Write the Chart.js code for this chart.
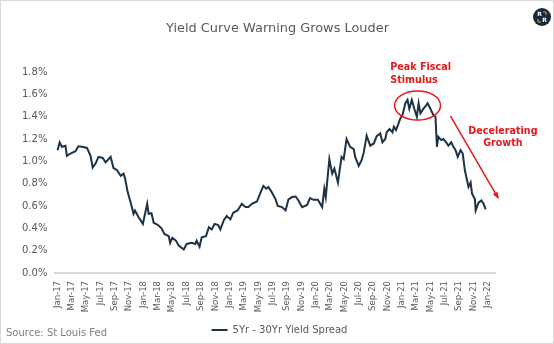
<!DOCTYPE html>
<html>
<head>
<meta charset="utf-8">
<script src="https://cdn.jsdelivr.net/npm/chart.js@4.4.1/dist/chart.umd.min.js"></script>
<style>
  html, body { margin: 0; padding: 0; background: #ffffff; }
  #marco { width: 554px; height: 344px; box-sizing: border-box; border: 1px solid #d9d9d9; position: relative; }
</style>
</head>
<body>
<div id="marco"><canvas id="grafico"></canvas></div>
<script>
// Datos: meses transcurridos desde ene-2017 y spread 5a-30a (%)
const mesesDesdeEne17 = [
  0, 0.3, 0.6, 1.1, 1.3, 1.8, 2.5, 2.9, 3.4, 4.1,
  4.6, 4.9, 5.3, 5.7, 6.3, 6.7, 7.4, 7.8, 8.3, 8.8,
  9.2, 9.4, 9.8, 10.2, 10.6, 10.8, 11.3, 11.9, 12.2, 12.5,
  12.7, 13.1, 13.4, 14.0, 14.5, 14.9, 15.5, 15.7, 16.0, 16.5,
  16.9, 17.6, 18.0, 18.7, 19.2, 19.4, 19.8, 20.1, 20.7, 21.1,
  21.5, 21.9, 22.4, 22.7, 23.2, 23.6, 24.1, 24.5, 25.1, 25.7,
  26.2, 26.6, 27.1, 27.8, 28.3, 28.7, 29.1, 29.4, 29.9, 30.4,
  30.7, 31.3, 31.8, 32.2, 32.7, 33.2, 33.6, 34.1, 34.8, 35.2,
  35.7, 36.3, 36.9, 37.2, 37.4, 37.9, 38.3, 38.6, 39.1, 39.6,
  39.9, 40.3, 40.8, 41.3, 41.5, 42.0, 42.4, 42.7, 43.1, 43.6,
  44.1, 44.5, 45.0, 45.3, 45.7, 45.9, 46.3, 46.7, 46.9, 47.2,
  47.8, 48.1, 48.5, 48.8, 49.05, 49.4, 49.8, 50.1, 50.35, 50.6,
  51.0, 51.4, 51.6, 52.0, 52.4, 52.7, 52.9, 53.1, 53.5, 53.8,
  54.2, 54.5, 54.9, 55.2, 55.5, 55.8, 56.2, 56.5, 56.8, 57.1,
  57.3, 57.6, 57.8, 58.2, 58.3, 58.7, 59.1, 59.4, 59.7
];

const spread5a30a = [
  1.10, 1.17, 1.13, 1.14, 1.05, 1.07, 1.09, 1.135, 1.13, 1.12,
  1.05, 0.945, 0.98, 1.04, 1.03, 0.99, 1.04, 0.94, 0.92, 0.87,
  0.89, 0.85, 0.72, 0.63, 0.53, 0.56, 0.50, 0.44, 0.53, 0.62,
  0.53, 0.535, 0.45, 0.43, 0.40, 0.35, 0.33, 0.27, 0.315, 0.29,
  0.245, 0.21, 0.26, 0.27, 0.26, 0.29, 0.235, 0.32, 0.33, 0.41,
  0.39, 0.44, 0.43, 0.39, 0.475, 0.51, 0.48, 0.54, 0.56, 0.62,
  0.59, 0.59, 0.62, 0.64, 0.72, 0.78, 0.755, 0.77, 0.72, 0.66,
  0.60, 0.59, 0.56, 0.66, 0.68, 0.685, 0.65, 0.59, 0.61, 0.67,
  0.655, 0.655, 0.59, 0.755, 0.68, 1.02, 0.89, 0.935, 0.81, 1.04,
  1.02, 1.20, 1.13, 1.11, 1.04, 0.96, 1.01, 1.08, 1.23, 1.14,
  1.16, 1.225, 1.25, 1.17, 1.20, 1.26, 1.29, 1.26, 1.31, 1.28,
  1.385, 1.415, 1.52, 1.55, 1.47, 1.55, 1.46, 1.40, 1.52, 1.43,
  1.47, 1.50, 1.52, 1.47, 1.415, 1.40, 1.13, 1.22, 1.19, 1.20,
  1.17, 1.14, 1.17, 1.13, 1.10, 1.04, 1.10, 1.07, 0.92, 0.83,
  0.77, 0.81, 0.71, 0.66, 0.56, 0.63, 0.65, 0.62, 0.57
];

// Etiquetas del eje X, una cada dos meses
const etiquetasX = [
  'Jan-17', 'Mar-17', 'May-17', 'Jul-17', 'Sep-17', 'Nov-17',
  'Jan-18', 'Mar-18', 'May-18', 'Jul-18', 'Sep-18', 'Nov-18',
  'Jan-19', 'Mar-19', 'May-19', 'Jul-19', 'Sep-19', 'Nov-19',
  'Jan-20', 'Mar-20', 'May-20', 'Jul-20', 'Sep-20', 'Nov-20',
  'Jan-21', 'Mar-21', 'May-21', 'Jul-21', 'Sep-21', 'Nov-21',
  'Jan-22'
];

const ticksY = [0, 0.2, 0.4, 0.6, 0.8, 1.0, 1.2, 1.4, 1.6, 1.8];

const FUENTE = '"DejaVu Sans", Verdana, sans-serif';
const COLOR_TEXTO = '#595959';
const ROJO = '#e3191c';

/** Título, fuente, logo y anotaciones en rojo */
const decoraciones = {
  id: 'decoraciones',
  afterDraw(chart) {
    const ctx = chart.ctx;
    const sx = chart.scales.x, sy = chart.scales.y;
    const px = m => sx.getPixelForValue(m);
    const py = v => sy.getPixelForValue(v);
    ctx.save();

    // título: se ajusta el tamaño para que ocupe el mismo ancho que el original
    const titulo = 'Yield Curve Warning Grows Louder';
    ctx.font = '15px ' + FUENTE;
    const tam = Math.min(15.5, 15 * 223 / ctx.measureText(titulo).width);
    ctx.font = tam.toFixed(2) + 'px ' + FUENTE;
    ctx.fillStyle = COLOR_TEXTO;
    ctx.textAlign = 'center';
    ctx.textBaseline = 'middle';
    ctx.fillText(titulo, 276.5, 28);

    // fuente de datos
    ctx.fillStyle = '#7f7f7f';
    ctx.font = '10px ' + FUENTE;
    ctx.textAlign = 'left';
    ctx.fillText('Source: St Louis Fed', 5, 332);

    // logo
    ctx.fillStyle = '#17293b';
    ctx.beginPath();
    ctx.arc(541, 16, 9, 0, Math.PI * 2);
    ctx.fill();
    ctx.fillStyle = '#ffffff';
    ctx.font = 'bold 6px ' + FUENTE;
    ctx.textAlign = 'center';
    ctx.fillText('R', 538.5, 13);
    ctx.fillText('R', 543.5, 19.5);
    ctx.strokeStyle = '#f0a020';
    ctx.lineWidth = 1;
    ctx.beginPath();
    ctx.moveTo(542, 11); ctx.lineTo(545, 11); ctx.lineTo(545, 14);
    ctx.moveTo(537, 18); ctx.lineTo(537, 21); ctx.lineTo(540, 21);
    ctx.stroke();

    // anotación: pico del estímulo fiscal
    ctx.fillStyle = ROJO;
    ctx.font = 'bold 9.6px ' + FUENTE;
    ctx.textAlign = 'left';
    ctx.fillText('Peak Fiscal', px(46.4), py(1.841));
    ctx.fillText('Stimulus', px(46.4), py(1.728));

    const cx = px(50.2), cy = py(1.50);
    const rx = px(53.4) - cx, ry = py(1.50) - py(1.63);
    ctx.strokeStyle = ROJO;
    ctx.lineWidth = 1.5;
    ctx.beginPath();
    ctx.ellipse(cx, cy, rx, ry, 0, 0, Math.PI * 2);
    ctx.stroke();

    // anotación: desaceleración
    ctx.textAlign = 'center';
    ctx.fillText('Decelerating', px(62.1), py(1.263));
    ctx.fillText('Growth', px(62.1), py(1.158));

    const x1 = px(54.8), y1 = py(1.405), x2 = px(61.4), y2 = py(0.675);
    ctx.beginPath();
    ctx.moveTo(x1, y1);
    ctx.lineTo(x2, y2);
    ctx.stroke();
    const ang = Math.atan2(y2 - y1, x2 - x1);
    ctx.beginPath();
    ctx.moveTo(x2 + 2 * Math.cos(ang), y2 + 2 * Math.sin(ang));
    ctx.lineTo(x2 - 6 * Math.cos(ang - 0.45), y2 - 6 * Math.sin(ang - 0.45));
    ctx.lineTo(x2 - 6 * Math.cos(ang + 0.45), y2 - 6 * Math.sin(ang + 0.45));
    ctx.closePath();
    ctx.fillStyle = ROJO;
    ctx.fill();

    ctx.restore();
  },
};

const puntos = mesesDesdeEne17.map((m, i) => ({ x: m, y: spread5a30a[i] }));

new Chart(document.getElementById('grafico'), {
  type: 'line',
  data: {
    datasets: [{
      label: '5Yr - 30Yr Yield Spread',
      data: puntos,
      borderColor: '#1c3246',
      backgroundColor: '#1c3246',
      borderWidth: 2,
      pointRadius: 0,
      tension: 0,
    }],
  },
  options: {
    responsive: true,
    maintainAspectRatio: false,
    animation: false,
    layout: { padding: { left: 13, right: 8, top: 71, bottom: -2 } },
    plugins: {
      legend: {
        display: true,
        position: 'bottom',
        labels: {
          color: COLOR_TEXTO,
          font: { family: FUENTE, size: 10 },
          usePointStyle: true,
          pointStyle: 'line',
          pointStyleWidth: 16,
          padding: 6,
        },
      },
      tooltip: { enabled: false },
    },
    scales: {
      x: {
        type: 'linear',
        min: -0.3,
        max: 61,
        grid: { display: false, drawTicks: false },
        border: { display: true, color: '#d9d9d9', width: 2 },
        afterBuildTicks: scale => { scale.ticks = etiquetasX.map((_, i) => ({ value: i * 2 })); },
        afterFit: scale => { scale.height = 46; },
        ticks: {
          autoSkip: false,
          maxRotation: 90,
          minRotation: 90,
          padding: 8,
          color: COLOR_TEXTO,
          font: { family: FUENTE, size: 8.5 },
          callback: v => etiquetasX[Math.round(v / 2)],
        },
      },
      y: {
        min: 0,
        max: 1.8,
        grid: { display: false, drawTicks: false },
        border: { display: false },
        afterBuildTicks: scale => { scale.ticks = ticksY.map(v => ({ value: v })); },
        ticks: {
          padding: 8,
          color: COLOR_TEXTO,
          font: { family: FUENTE, size: 10 },
          callback: v => v.toFixed(1) + '%',
        },
      },
      // eje vacío a la derecha: reserva el margen sin descentrar la leyenda
      derecha: {
        type: 'linear',
        position: 'right',
        display: true,
        grid: { display: false, drawTicks: false },
        border: { display: false },
        ticks: { display: false },
        afterFit: scale => { scale.width = 50; },
      },
    },
  },
  plugins: [decoraciones],
});
</script>
</body>
</html>
